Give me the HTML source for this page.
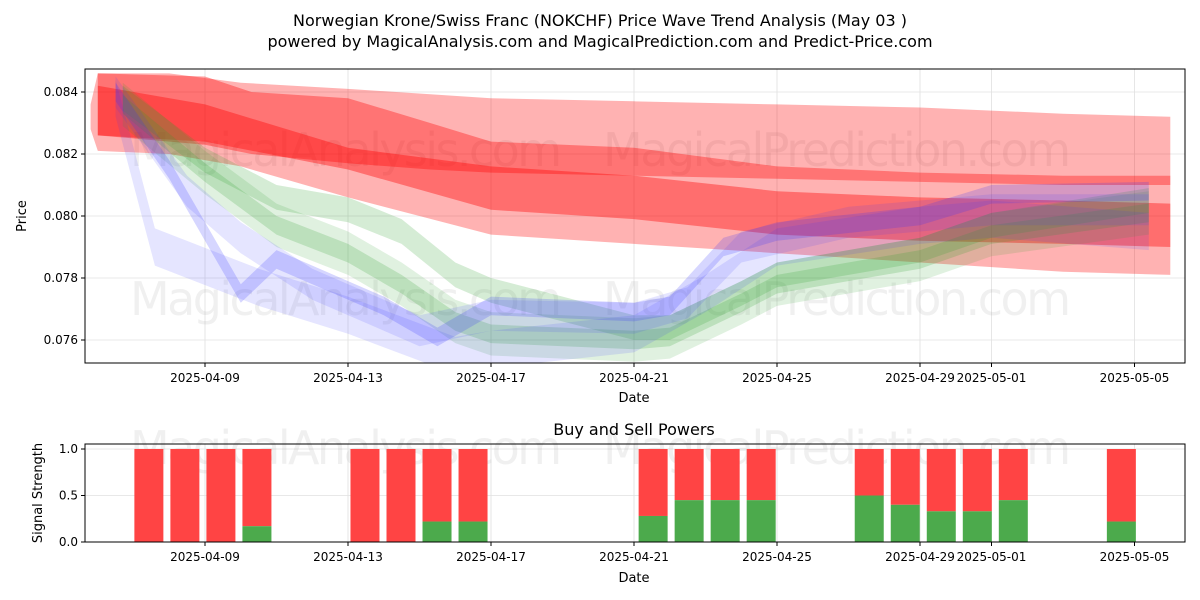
<!DOCTYPE html>
<html><head><meta charset="utf-8">
<style>
body{margin:0;background:#fff;}
svg{display:block;font-family:"DejaVu Sans","Liberation Sans",sans-serif;}
</style></head>
<body>
<svg id="c" width="1200" height="600" xmlns="http://www.w3.org/2000/svg">
<rect width="1200" height="600" fill="#fff"/>
<text x="600" y="26" text-anchor="middle" font-size="16">Norwegian Krone/Swiss Franc (NOKCHF) Price Wave Trend Analysis (May 03 )</text>
<text x="600" y="47" text-anchor="middle" font-size="16">powered by MagicalAnalysis.com and MagicalPrediction.com and Predict-Price.com</text>
<g id="topPanel"></g>
<g id="botPanel"></g>
</svg>
<script>
const xTickLabels = ["2025-04-09","2025-04-13","2025-04-17","2025-04-21","2025-04-25","2025-04-29","2025-05-01","2025-05-05"];
const xTickDays = [0,4,8,12,16,20,22,26];
const yTicks = [0.076,0.078,0.080,0.082,0.084];
const sigTicks = [0.0,0.5,1.0];

const r1Days = [-3.2,-3,-1,1,4,8,12,16,20,24,27];
const r1Up   = [0.0836,0.0846,0.0846,0.0843,0.0841,0.0838,0.0837,0.0836,0.0835,0.0833,0.0832];
const r1Lo   = [0.0828,0.0821,0.0820,0.0816,0.0806,0.0794,0.0791,0.0788,0.0785,0.0782,0.0781];
const r2Days = [-3,0,1.3,4,6.3,8,12,16,20,24,27];
const r2Up   = [0.0846,0.0845,0.0840,0.0838,0.0830,0.0824,0.0822,0.0816,0.0814,0.0813,0.0813];
const r2Lo   = [0.0826,0.0823,0.0820,0.0817,0.0815,0.0814,0.0813,0.0812,0.0811,0.0810,0.0810];
const r3Days = [-3,0,4,8,12,16,20,24,27];
const r3Up   = [0.0842,0.0836,0.0822,0.0816,0.0813,0.0808,0.0806,0.0805,0.0804];
const r3Lo   = [0.0826,0.0824,0.0815,0.0802,0.0799,0.0794,0.0792,0.0791,0.0790];

const g1Days = [-2.3,0,2,4,5.5,7,8,12,13,15,16,20,22,26.4];
const g1Mid  = [0.0838,0.0818,0.0806,0.0802,0.0795,0.0781,0.0776,0.0764,0.0764,0.0775,0.0781,0.0789,0.0797,0.0805];
const g2Days = [-2.3,0,2,4,5.5,7,8,12,13,15,16,20,22,26.4];
const g2Mid  = [0.0836,0.0814,0.0797,0.0788,0.0778,0.0766,0.0762,0.0760,0.0761,0.0772,0.0778,0.0786,0.0794,0.0801];
const b1Days = [-2.5,-1,0.5,1,2,5,6.5,8,12,13,14.5,16,20,22,26.4];
const b1Mid  = [0.0840,0.0815,0.0785,0.0775,0.0786,0.0771,0.0761,0.0771,0.0769,0.0771,0.0790,0.0795,0.0800,0.0807,0.0808];
const b2Days = [-2.5,-1.4,1.5,4,7,8,12,14,16,20,22,26.4];
const b2Mid  = [0.0838,0.0790,0.0777,0.0768,0.0755,0.0757,0.0762,0.0775,0.0790,0.0797,0.0799,0.0795];
const b3Days = [-2.5,-0.5,1,3,6,8,12,13.5,15,18,22,26.4];
const b3Mid  = [0.0840,0.0808,0.0793,0.0778,0.0763,0.0768,0.0767,0.0772,0.0790,0.0798,0.0802,0.0802];

const barDays  = [-2,-1,0,1,4,5,6,7,12,13,14,15,18,19,20,21,22,25];
const buyVals  = [0,0,0,0.17,0,0,0.22,0.22,0.28,0.45,0.45,0.45,0.5,0.4,0.33,0.33,0.45,0.22];

const NS="http://www.w3.org/2000/svg";
const X0=85,X1=1185;
function xd(d){return 205+35.75*d;}
function yp(v){return 92+(0.084-v)/0.001*31;}
function ys(v){return 542-v*93;}
function mk(p,tag,attrs){const e=document.createElementNS(NS,tag);for(const k in attrs)e.setAttribute(k,attrs[k]);p.appendChild(e);return e;}
const topG=document.getElementById('topPanel'), botG=document.getElementById('botPanel');

const defs=mk(document.getElementById('c'),'defs',{});
const cp=mk(defs,'clipPath',{id:'cp'}); mk(cp,'rect',{x:X0,y:69,width:X1-X0,height:294});

xTickDays.forEach((d,i)=>{
  const l=mk(topG,'line',{x1:xd(d),x2:xd(d),y1:69,y2:363,stroke:'#e0e0e0','stroke-width':0.8});
  
  
});
yTicks.forEach(v=>{
  const l=mk(topG,'line',{x1:X0,x2:X1,y1:yp(v),y2:yp(v),stroke:'#e0e0e0','stroke-width':0.8});
  
  
});
function wm(p,x,y,txt){const e=mk(p,'text',{x:x,y:y,'font-size':46,fill:'rgba(140,140,140,0.13)',textLength:432});e.textContent=txt;
  
  }
function wm2(p,x,y,txt){const e=mk(p,'text',{x:x,y:y,'font-size':46,fill:'rgba(140,140,140,0.13)',textLength:468});e.textContent=txt;
  
  }
wm(topG,130,166,'MagicalAnalysis.com');wm2(topG,603,166,'MagicalPrediction.com');
wm(topG,130,315,'MagicalAnalysis.com');wm2(topG,603,315,'MagicalPrediction.com');

const gg=mk(topG,'g',{'clip-path':'url(#cp)'});
function band(days,up,lo,color,op,name){
  let pts=[];
  days.forEach((d,i)=>pts.push(xd(d).toFixed(1)+','+yp(up[i]).toFixed(1)));
  for(let i=days.length-1;i>=0;i--)pts.push(xd(days[i]).toFixed(1)+','+yp(lo[i]).toFixed(1));
  const e=mk(gg,'polygon',{points:pts.join(' '),fill:color,'fill-opacity':op});
  
  
}
function midBand(days,mid,hw,color,op,name){
  band(days,mid.map(v=>v+hw),mid.map(v=>v-hw),color,op,name);
}
band(r1Days,r1Up,r1Lo,'#ff0000',0.3,'red-band-outer');
band(r2Days,r2Up,r2Lo,'#ff0000',0.35,'red-band-upper');
band(r3Days,r3Up,r3Lo,'#ff0000',0.38,'red-band-lower');
midBand(g2Days,g2Mid,0.0007,'#2ca02c',0.15,'green-band-wide');
midBand(g1Days,g1Mid,0.0004,'#2ca02c',0.2,'green-band-main');
midBand(g2Days,g2Mid,0.0003,'#2ca02c',0.2,'green-band-inner');
midBand(b2Days,b2Mid,0.0006,'#3333ff',0.13,'blue-band-wide');
midBand(b3Days,b3Mid,0.0005,'#3333ff',0.13,'blue-band-mid');
midBand(b1Days,b1Mid,0.0003,'#3333ff',0.2,'blue-band-main');

const fr=mk(topG,'rect',{x:X0,y:69,width:X1-X0,height:294,fill:'none',stroke:'#000','stroke-width':1});


xTickDays.forEach((d,i)=>{
  mk(topG,'line',{x1:xd(d),x2:xd(d),y1:363,y2:367,stroke:'#000'});
  const tx=mk(topG,'text',{x:xd(d),y:382,'text-anchor':'middle','font-size':12});tx.textContent=xTickLabels[i];
  
  
});
yTicks.forEach(v=>{
  mk(topG,'line',{x1:X0-4,x2:X0,y1:yp(v),y2:yp(v),stroke:'#000'});
  const tx=mk(topG,'text',{x:X0-7,y:yp(v)+4,'text-anchor':'end','font-size':12});tx.textContent=v.toFixed(3);
  
  
});
let lab=mk(topG,'text',{x:634,y:402,'text-anchor':'middle','font-size':13});lab.textContent='Date';


lab=mk(topG,'text',{x:26,y:216,'text-anchor':'middle','font-size':13,transform:'rotate(-90 26 216)'});lab.textContent='Price';



sigTicks.forEach(v=>{
  const l=mk(botG,'line',{x1:X0,x2:X1,y1:ys(v),y2:ys(v),stroke:'#e0e0e0','stroke-width':0.8});
  
  
});
xTickDays.forEach(d=>{
  const l=mk(botG,'line',{x1:xd(d),x2:xd(d),y1:444,y2:542,stroke:'#e0e0e0','stroke-width':0.8});
  
  
});
wm(botG,130,464,'MagicalAnalysis.com');wm2(botG,603,464,'MagicalPrediction.com');
const bw=29;
barDays.forEach((d,i)=>{
  const cx=xd(d+0.43+(d+2)*0.0075);
  const r=mk(botG,'rect',{x:cx-bw/2,y:ys(1),width:bw,height:ys(buyVals[i])-ys(1),fill:'#ff4444'});
  
  
  if(buyVals[i]>0){
    const b=mk(botG,'rect',{x:cx-bw/2,y:ys(buyVals[i]),width:bw,height:ys(0)-ys(buyVals[i]),fill:'#4caa4c'});
    
    
  }
});
const fr2=mk(botG,'rect',{x:X0,y:444,width:X1-X0,height:98,fill:'none',stroke:'#000','stroke-width':1});


xTickDays.forEach((d,i)=>{
  mk(botG,'line',{x1:xd(d),x2:xd(d),y1:542,y2:546,stroke:'#000'});
  const tt=mk(botG,'text',{x:xd(d),y:561,'text-anchor':'middle','font-size':12});tt.textContent=xTickLabels[i];
  
  
});
sigTicks.forEach(v=>{
  mk(botG,'line',{x1:X0-4,x2:X0,y1:ys(v),y2:ys(v),stroke:'#000'});
  const tt=mk(botG,'text',{x:X0-7,y:ys(v)+4,'text-anchor':'end','font-size':12});tt.textContent=v.toFixed(1);
  
  
});
lab=mk(botG,'text',{x:634,y:435,'text-anchor':'middle','font-size':16});lab.textContent='Buy and Sell Powers';


lab=mk(botG,'text',{x:634,y:582,'text-anchor':'middle','font-size':13});lab.textContent='Date';


lab=mk(botG,'text',{x:42,y:493,'text-anchor':'middle','font-size':13,transform:'rotate(-90 42 493)'});lab.textContent='Signal Strength';


</script>
</body></html>
